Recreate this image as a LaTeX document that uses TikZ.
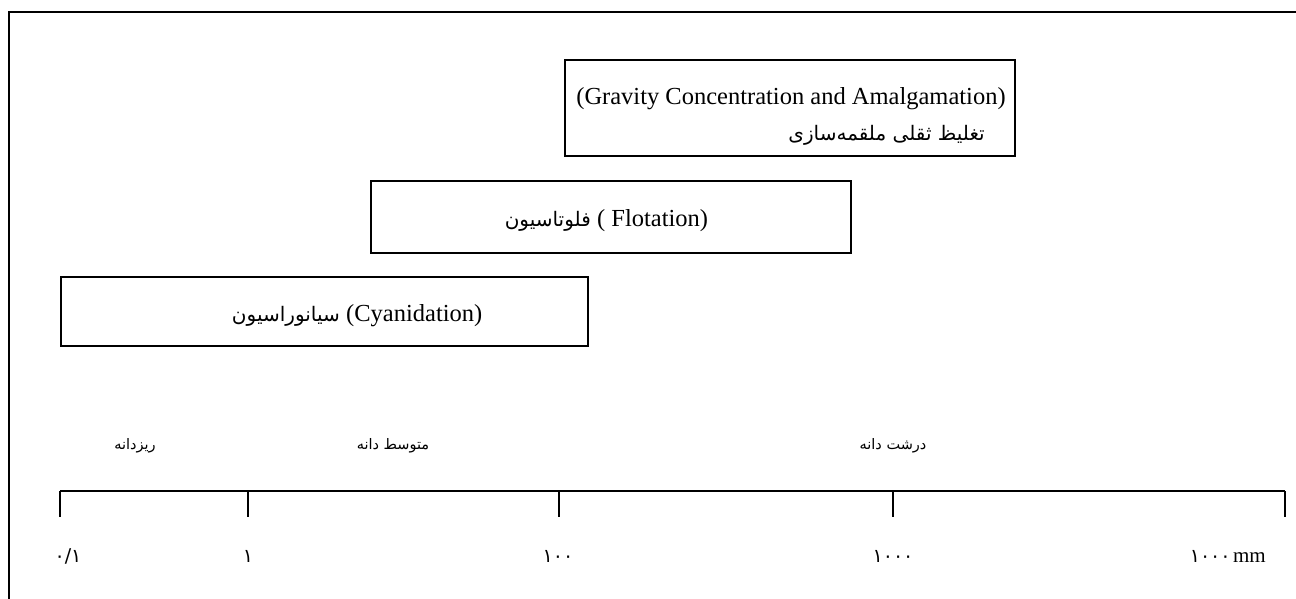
\documentclass[tikz,border=0pt]{standalone}
\usepackage{fontspec}
\setmainfont{Liberation Serif}
\TeXXeTstate=1
\newfontfamily\fa[Script=Arabic]{DejaVu Sans}
\begin{document}
\begin{tikzpicture}[x=1pt,y=-1pt,
  procbox/.style={draw, line width=1.6pt, anchor=north west, inner sep=0pt},
  en/.style={font=\fontsize{24.5}{29}\selectfont, inner sep=0pt},
  faBox/.style={font=\fa\fontsize{20}{24}\selectfont, inner sep=0pt},
  faLab/.style={font=\fa\fontsize{14.5}{17}\selectfont, inner sep=0pt},
  faNum/.style={font=\fa\fontsize{19}{23}\selectfont, inner sep=0pt},
  tick/.style={line width=1.6pt}]
\useasboundingbox (0,0) rectangle (1296,599);
\draw[line width=1.6pt] (9,599) -- (9,12) -- (1296,12);
% boxes
\node[procbox, minimum width=450pt, minimum height=96pt] (grav) at (564,59) {};
\node[procbox, minimum width=480pt, minimum height=72pt] (flot) at (370,180) {};
\node[procbox, minimum width=527pt, minimum height=69pt] (cyan) at (60,276) {};
% box texts
\node[en] (gravEn) at (791,99) {(Gravity Concentration and Amalgamation)};
\node[faBox, anchor=east] (gravFa) at (985,135) {\beginR تغلیظ ثقلی ملقمه‌سازی\endR};
\node[en, anchor=base west] (flotEn) at (597,226) {( Flotation)};
\node[faBox, anchor=base east] (flotFa) at (591,226) {\beginR فلوتاسیون\endR};
\node[en, anchor=base west] (cyanEn) at (346,321) {(Cyanidation)};
\node[faBox, anchor=base east] (cyanFa) at (340,321) {\beginR سیانوراسیون\endR};
% size class labels
\node[faLab] (fine) at (135,446) {\beginR ریزدانه\endR};
\node[faLab] (mid) at (393,446) {\beginR متوسط دانه\endR};
\node[faLab] (coarse) at (893,446) {\beginR درشت دانه\endR};
% axis
\coordinate (t0) at (60,491);
\coordinate (t1) at (248,491);
\coordinate (t2) at (559,491);
\coordinate (t3) at (893,491);
\coordinate (t4) at (1285,491);
\draw[tick] (t0) -- (t4);
\foreach \t in {t0,t1,t2,t3,t4} \draw[tick] (\t) -- ++(0,26);
% axis numbers
\node[faNum] (n0) at (68,556) {۰/۱};
\node[faNum] (n1) at (248,556) {۱};
\node[faNum] (n2) at (558,556) {۱۰۰};
\node[faNum] (n3) at (893,556) {۱۰۰۰};
\node[inner sep=0pt, anchor=east] (n4) at (1266,556) {{\fa\fontsize{19}{23}\selectfont ۱۰۰۰} \fontsize{21}{25}\selectfont mm};
\end{tikzpicture}
\end{document}
